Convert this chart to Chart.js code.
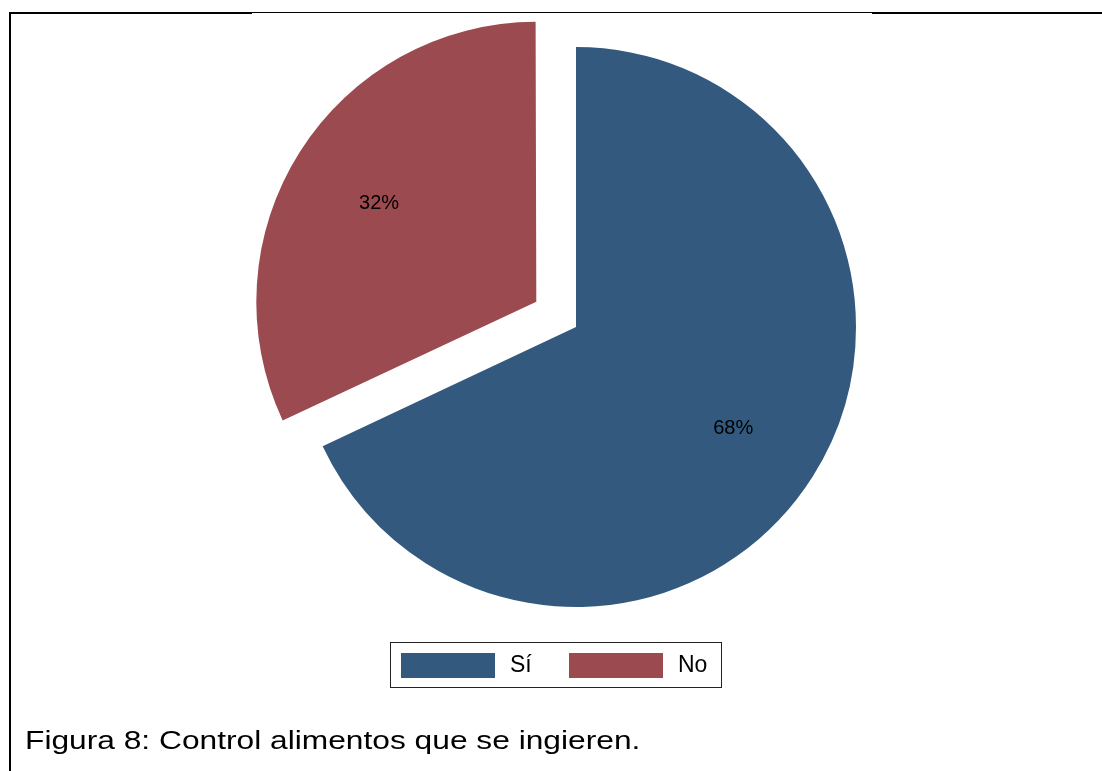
<!DOCTYPE html>
<html>
<head>
<meta charset="utf-8">
<script src="https://cdn.jsdelivr.net/npm/chart.js@4.4.0/dist/chart.umd.min.js"></script>
<style>
  html, body { margin: 0; padding: 0; background: #fff; }
  #wrap { position: relative; width: 1102px; height: 771px; overflow: hidden; font-family: "Liberation Sans", Arial, sans-serif; }
  #pie { position: absolute; left: 0; top: 0; }
  .rule { position: absolute; background: #000; }
  #legend { position: absolute; left: 390px; top: 642px; width: 332px; height: 46px; border: 1px solid #222; box-sizing: border-box; }
  .swatch { position: absolute; top: 10px; width: 94px; height: 25px; }
  .lbl { position: absolute; top: 8px; font-size: 23px; line-height: 26px; color: #000; }
  #caption { position: absolute; left: 25px; top: 724px; font-size: 26px; line-height: 32px; color: #000; white-space: nowrap; transform-origin: 0 0; transform: scaleX(1.22); }
</style>
</head>
<body>
<div id="wrap">
  <canvas id="pie" width="1102" height="771"></canvas>
  <!-- frame lines -->
  <div class="rule" style="left:9px; top:12px; width:1093px; height:1px;"></div>
  <div class="rule" style="left:9px; top:12px; width:243px; height:2px;"></div>
  <div class="rule" style="left:872px; top:12px; width:230px; height:2px;"></div>
  <div class="rule" style="left:9px; top:12px; width:2px; height:759px;"></div>
  <div id="legend"></div>
  <div id="caption">Figura 8: Control alimentos que se ingieren.</div>
</div>
<script>
const categories = ['Sí', 'No'];
const shares = [68, 32];
const sliceColors = ['#335a7e', '#9b4a50'];
// how far each slice is pulled out, in pixels
const explode = [0, 47];

// arc.draw grows an offset slice's radius by offset*(1 - sin(circ)); undo it
// so the pulled-out slice keeps the same radius as the rest
const keepRadius = {
    id: 'keepRadius',
    afterUpdate(chart) {
        chart.getDatasetMeta(0).data.forEach((arc, i) => {
            const circ = arc.endAngle - arc.startAngle;
            const fix = 1 - Math.sin(Math.min(Math.PI, circ));
            arc.outerRadius -= explode[i] * fix;
        });
    }
};

// percentage text inside each slice
const sliceLabels = {
    id: 'sliceLabels',
    afterDatasetsDraw(chart) {
        const ctx = chart.ctx;
        const meta = chart.getDatasetMeta(0);
        ctx.save();
        ctx.font = '20px "Liberation Sans", Arial, sans-serif';
        ctx.fillStyle = '#000';
        ctx.textAlign = 'center';
        ctx.textBaseline = 'alphabetic';
        meta.data.forEach((arc, i) => {
            const mid = (arc.startAngle + arc.endAngle) / 2;
            const d = explode[i] + 280 * 0.665;
            ctx.fillText(shares[i] + '%', arc.x + Math.cos(mid) * d, arc.y + Math.sin(mid) * d + 7);
        });
        ctx.restore();
    }
};

new Chart(document.getElementById('pie'), {
    type: 'pie',
    data: {
        labels: categories,
        datasets: [{
            data: shares,
            backgroundColor: sliceColors,
            borderWidth: 0,
            // arc draw divides offset by 4
            offset: explode.map(v => v * 4)
        }]
    },
    options: {
        responsive: false,
        animation: false,
        radius: 280,
        layout: { padding: { left: 50, right: 0, top: 0, bottom: 117 } },
        plugins: {
            legend: { display: false },
            tooltip: { enabled: false }
        }
    },
    plugins: [keepRadius, sliceLabels]
});

// legend box
const legend = document.getElementById('legend');
const swatchX = [10, 178];
const textX = [119, 287];
categories.forEach((c, i) => {
    const sw = document.createElement('div');
    sw.className = 'swatch';
    sw.style.left = swatchX[i] + 'px';
    sw.style.background = sliceColors[i];
    legend.appendChild(sw);
    const t = document.createElement('div');
    t.className = 'lbl';
    t.style.left = textX[i] + 'px';
    t.textContent = c;
    legend.appendChild(t);
});
</script>
</body>
</html>
